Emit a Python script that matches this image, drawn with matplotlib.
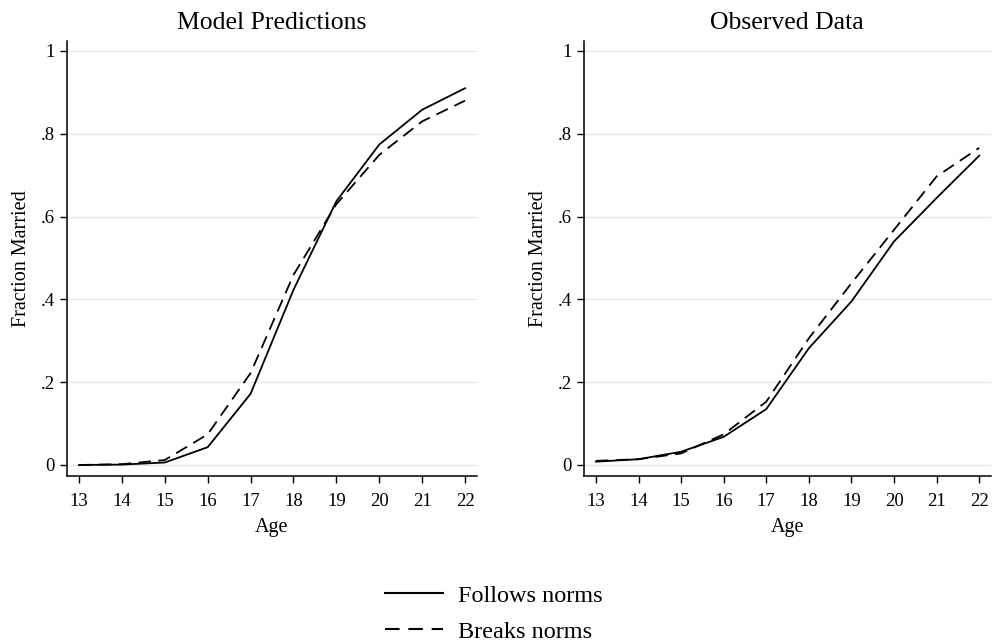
import matplotlib
matplotlib.use("Agg")
import matplotlib.pyplot as plt
from matplotlib.lines import Line2D

plt.rcParams["font.family"] = ["Liberation Serif", "DejaVu Serif"]

ages = [13, 14, 15, 16, 17, 18, 19, 20, 21, 22]

model_follows = [0.000, 0.001, 0.006, 0.043, 0.172, 0.423, 0.637, 0.774, 0.858, 0.910]
model_breaks = [0.000, 0.002, 0.012, 0.074, 0.222, 0.459, 0.630, 0.749, 0.830, 0.880]

observed_follows = [0.008, 0.014, 0.032, 0.068, 0.135, 0.282, 0.395, 0.540, 0.645, 0.747]
observed_breaks = [0.010, 0.014, 0.028, 0.074, 0.153, 0.306, 0.439, 0.568, 0.697, 0.766]

panel_titles = ["Model Predictions", "Observed Data"]
ytick_vals = [0, 0.2, 0.4, 0.6, 0.8, 1.0]
ytick_labels = ["0", ".2", ".4", ".6", ".8", "1"]
legend_labels = ["Follows norms", "Breaks norms"]

fig = plt.figure(figsize=(9.92, 6.43), dpi=100)
ax_left = fig.add_axes([0.0675, 0.2597, 0.413, 0.6765])
ax_right = fig.add_axes([0.5887, 0.2597, 0.410, 0.6765])

panels = [
    (ax_left, model_follows, model_breaks, panel_titles[0]),
    (ax_right, observed_follows, observed_breaks, panel_titles[1]),
]

for ax, follows, breaks, title in panels:
    ax.plot(ages, follows, color="black", lw=1.3, linestyle="-", solid_joinstyle="miter")
    ax.plot(ages, breaks, color="black", lw=1.3, linestyle=(0, (7, 4)))
    ax.set_xlim(12.72, 22.27)
    ax.set_ylim(-0.0266, 1.024)
    ax.set_xticks(ages)
    ax.set_xticklabels([str(a) for a in ages], fontsize=13.5)
    ax.set_yticks(ytick_vals)
    ax.set_yticklabels(ytick_labels, fontsize=13.5)
    ax.tick_params(direction="out", length=5, width=1, color="black")
    ax.tick_params(axis="x", pad=7)
    ax.tick_params(axis="y", pad=4)
    for side in ("top", "right"):
        ax.spines[side].set_visible(False)
    for side in ("left", "bottom"):
        ax.spines[side].set_linewidth(1.1)
    ax.yaxis.grid(True, color="#e6e6e6", lw=0.9)
    ax.set_axisbelow(True)
    ax.set_title(title, fontsize=18.5, pad=9)
    ax.set_xlabel("Age", fontsize=14.5, labelpad=6)
    ax.set_ylabel("Fraction Married", fontsize=14.5, labelpad=7)

handles = [
    Line2D([], [], color="black", lw=1.5, linestyle="-"),
    Line2D([], [], color="black", lw=1.5, linestyle=(0, (7, 4.2))),
]
fig.legend(handles, legend_labels, loc="center", bbox_to_anchor=(0.4975, 0.0455),
           frameon=False, fontsize=17.5, handlelength=2.4, handletextpad=0.62,
           labelspacing=0.58, borderpad=0.2)

fig.savefig("out.png", dpi=100, facecolor="white")
